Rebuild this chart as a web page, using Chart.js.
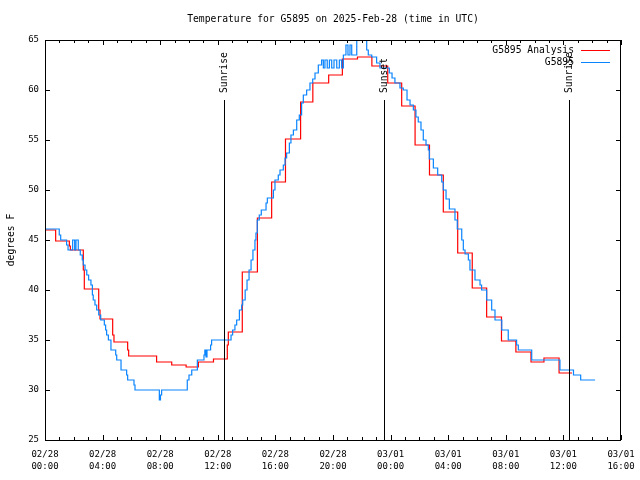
<!DOCTYPE html>
<html>
<head>
<meta charset="utf-8">
<script src="https://cdn.jsdelivr.net/npm/chart.js@4.4.1/dist/chart.umd.min.js"></script>
<style>
  html, body { margin: 0; padding: 0; background: #fff; }
  canvas { display: block; }
</style>
</head>
<body>
<canvas id="tempChart" width="640" height="480"></canvas>
<script>
// hours since 02/28 00:00 UTC, value holds until the next point
const analysisHours = [0, 0.74, 1.69, 1.76, 2.66, 2.73, 3.73, 3.82, 4.70, 4.79, 5.74, 5.81, 7.75, 8.8, 9.8,
  10.65, 11.7, 12.66, 12.73, 13.7, 14.75, 15.74, 16.7, 17.75, 18.6, 19.7, 20.65, 21.7, 22.7, 23.8,
  24.77, 25.7, 26.7, 27.66, 28.66, 29.67, 30.67, 31.7, 32.7, 33.75, 34.65, 35.7, 36.6];
const analysisTemps = [46.0, 44.9, 44.4, 44.0, 42.0, 40.1, 38.0, 37.1, 35.5, 34.8, 34.0, 33.4, 32.8, 32.5, 32.3,
  32.8, 33.1, 34.5, 35.8, 41.8, 47.2, 50.8, 55.1, 58.8, 60.7, 61.5, 63.1, 63.3, 62.4, 60.7,
  58.4, 54.5, 51.5, 47.8, 43.7, 40.2, 37.3, 34.9, 33.8, 32.8, 33.2, 31.7, 31.7];

const obsHours = [0, 0.99, 1.09, 1.5, 1.6, 1.92, 2.06, 2.15, 2.31, 2.45, 2.59, 2.66, 2.78, 2.9, 3.03, 3.19,
  3.29, 3.35, 3.47, 3.59, 3.73, 3.87, 4.12, 4.21, 4.28, 4.4, 4.58, 4.91, 4.98, 5.28, 5.67, 5.74,
  6.18, 6.25, 7.94, 8.02, 8.1, 9.88, 10.0, 10.19, 10.58, 11.04, 11.1, 11.18, 11.25, 11.5, 11.57,
  12.92, 13.03, 13.19, 13.31, 13.5, 13.66, 13.73, 13.9, 14.03, 14.17, 14.31, 14.44, 14.58, 14.65,
  14.74, 14.88, 15.02, 15.35, 15.44, 15.86, 15.97, 16.2, 16.32, 16.55, 16.67, 16.78, 16.97, 17.08,
  17.25, 17.48, 17.66, 17.82, 17.94, 18.17, 18.4, 18.59, 18.75, 18.98, 19.21, 19.33, 19.44, 19.6,
  19.75, 19.91, 20.07, 20.26, 20.44, 20.6, 20.72, 20.9, 21.04, 21.18, 21.3, 21.65, 22.0, 22.34,
  22.45, 22.69, 23.03, 23.26, 23.91, 24.1, 24.3, 24.65, 24.88, 25.14, 25.35, 25.58, 25.76, 25.92,
  26.11, 26.27, 26.46, 26.62, 26.69, 26.97, 27.27, 27.55, 27.66, 27.85, 28.08, 28.47, 28.63, 28.94,
  29.05, 29.17, 29.4, 29.51, 29.86, 30.21, 30.32, 30.67, 31.02, 31.25, 31.72, 32.17, 32.75, 32.87,
  33.8, 35.76, 36.7, 37.2, 38.2];
const obsTemps = [46.1, 45.5, 45.0, 44.5, 44.0, 45.0, 44.0, 45.0, 44.0, 43.5, 43.0, 42.5, 42.0, 41.5, 41.0, 40.5,
  39.5, 39.0, 38.5, 38.0, 37.5, 37.0, 36.5, 36.0, 35.5, 35.0, 34.0, 33.5, 33.0, 32.0, 31.5, 31.0,
  30.5, 30.0, 29.0, 29.5, 30.0, 31.0, 31.5, 32.0, 33.0, 33.5, 34.0, 33.3, 34.0, 34.5, 35.0,
  35.5, 36.0, 36.5, 37.0, 38.0, 38.5, 39.0, 40.0, 41.0, 42.0, 43.0, 44.0, 45.0, 45.7,
  47.0, 47.5, 48.0, 48.7, 49.2, 50.0, 51.0, 51.5, 52.0, 52.5, 53.2, 53.7, 54.7, 55.5,
  56.0, 57.0, 57.5, 58.7, 59.5, 60.0, 60.7, 61.1, 61.7, 62.5, 63.0, 62.2, 63.0, 62.2,
  63.0, 62.2, 63.0, 62.2, 63.0, 62.2, 63.5, 64.5, 63.5, 64.5, 63.5, 65.0, 65.5, 64.0,
  63.5, 63.3, 62.7, 62.2, 61.7, 61.2, 60.7, 60.2, 60.0, 59.0, 58.5, 58.0, 57.3, 56.8,
  56.0, 55.0, 54.5, 54.0, 53.1, 52.2, 51.5, 50.8, 50.0, 49.1, 48.1, 47.0, 46.1, 45.0,
  44.0, 43.6, 43.0, 42.0, 41.0, 40.5, 40.0, 39.0, 38.0, 37.0, 36.0, 35.0, 34.5, 34.0,
  33.0, 32.0, 31.5, 31.0, 31.0];

const xTickDates = ['02/28', '02/28', '02/28', '02/28', '02/28', '02/28', '03/01', '03/01', '03/01', '03/01', '03/01'];
const xTickTimes = ['00:00', '04:00', '08:00', '12:00', '16:00', '20:00', '00:00', '04:00', '08:00', '12:00', '16:00'];

const sunHours = [12.45, 23.56, 36.39];
const sunLabels = ['Sunrise', 'Sunset', 'Sunrise'];

const titleText = 'Temperature for G5895 on 2025-Feb-28 (time in UTC)';
const MONO = '"DejaVu Sans Mono", "Liberation Mono", monospace';

function toPoints(xs, ys) {
  return xs.map((h, i) => ({ x: h, y: ys[i] }));
}

// gnuplot look: frame, inward ticks, sun markers, legend, titles
const gnuplotFrame = {
  id: 'gnuplotFrame',
  afterDraw(chart) {
    const ctx = chart.ctx;
    const a = chart.chartArea;
    const xs = chart.scales.x;
    const ys = chart.scales.y;
    ctx.save();
    ctx.strokeStyle = '#000';
    ctx.fillStyle = '#000';
    ctx.lineWidth = 1;

    // sunrise / sunset lines
    ctx.font = '9.7px ' + MONO;
    sunHours.forEach((h, i) => {
      const px = Math.round(xs.getPixelForValue(h)) + 0.5;
      ctx.beginPath();
      ctx.moveTo(px, a.top + 60);
      ctx.lineTo(px, a.bottom);
      ctx.stroke();
      ctx.save();
      ctx.translate(px, a.top + 53);
      ctx.rotate(-Math.PI / 2);
      ctx.textAlign = 'left';
      ctx.textBaseline = 'middle';
      ctx.fillText(sunLabels[i], 0, 0);
      ctx.restore();
    });

    // frame
    ctx.strokeRect(a.left + 0.5, a.top + 0.5, a.right - a.left - 1, a.bottom - a.top);

    // ticks
    ctx.beginPath();
    for (let h = 0; h <= 40; h++) {
      const px = Math.round(xs.getPixelForValue(h)) + 0.5;
      const len = h % 4 === 0 ? 5 : 3;
      ctx.moveTo(px, a.bottom);
      ctx.lineTo(px, a.bottom - len);
      ctx.moveTo(px, a.top);
      ctx.lineTo(px, a.top + len);
    }
    for (let v = 25; v <= 65; v += 5) {
      const py = Math.round(ys.getPixelForValue(v)) + 0.5;
      ctx.moveTo(a.left, py);
      ctx.lineTo(a.left + 5, py);
      ctx.moveTo(a.right, py);
      ctx.lineTo(a.right - 5, py);
    }
    ctx.stroke();

    // legend
    ctx.font = '9.7px ' + MONO;
    ctx.textAlign = 'right';
    ctx.textBaseline = 'middle';
    chart.data.datasets.forEach((ds, i) => {
      const y = a.top + 10 + i * 12;
      ctx.fillStyle = '#000';
      ctx.fillText(ds.label, a.right - 47, y);
      ctx.strokeStyle = ds.borderColor;
      ctx.beginPath();
      ctx.moveTo(a.right - 40, y + 0.5);
      ctx.lineTo(a.right - 11, y + 0.5);
      ctx.stroke();
    });

    // title and y axis title
    ctx.fillStyle = '#000';
    ctx.textAlign = 'center';
    ctx.fillText(titleText, (a.left + a.right) / 2, 19);
    ctx.save();
    ctx.translate(11, (a.top + a.bottom) / 2);
    ctx.rotate(-Math.PI / 2);
    ctx.fillText('degrees F', 0, 0);
    ctx.restore();

    ctx.restore();
  }
};

new Chart(document.getElementById('tempChart'), {
  type: 'line',
  data: {
    datasets: [
      {
        label: 'G5895 Analysis',
        data: toPoints(analysisHours, analysisTemps),
        borderColor: '#ff0000',
        borderWidth: 1.2,
        pointRadius: 0,
        stepped: true,
        order: 1
      },
      {
        label: 'G5895',
        data: toPoints(obsHours, obsTemps),
        borderColor: '#0a84ff',
        borderWidth: 1.2,
        pointRadius: 0,
        stepped: true,
        order: 0
      }
    ]
  },
  options: {
    responsive: false,
    animation: false,
    devicePixelRatio: 1,
    layout: { padding: { left: 0, right: 19, top: 40, bottom: 0 } },
    plugins: {
      legend: { display: false },
      title: { display: false },
      tooltip: { enabled: false }
    },
    scales: {
      x: {
        type: 'linear',
        min: 0,
        max: 40,
        grid: { display: false, drawTicks: false },
        border: { display: false },
        afterFit: scale => {
          scale.height = 40;
          scale.paddingLeft = 0;
          scale.paddingRight = 0;
        },
        ticks: {
          stepSize: 4,
          padding: 9,
          maxRotation: 0,
          autoSkip: false,
          color: '#000',
          font: { family: MONO, size: 9, lineHeight: 1.333 },
          callback: (value) => {
            const i = Math.round(value / 4);
            return [xTickDates[i], xTickTimes[i]];
          }
        }
      },
      y: {
        min: 25,
        max: 65,
        grid: { display: false, drawTicks: false },
        border: { display: false },
        afterFit: scale => {
          scale.width = 45;
          scale.paddingTop = 0;
          scale.paddingBottom = 0;
        },
        ticks: {
          stepSize: 5,
          padding: 6,
          color: '#000',
          font: { family: MONO, size: 9 }
        }
      }
    }
  },
  plugins: [gnuplotFrame]
});
</script>
</body>
</html>
